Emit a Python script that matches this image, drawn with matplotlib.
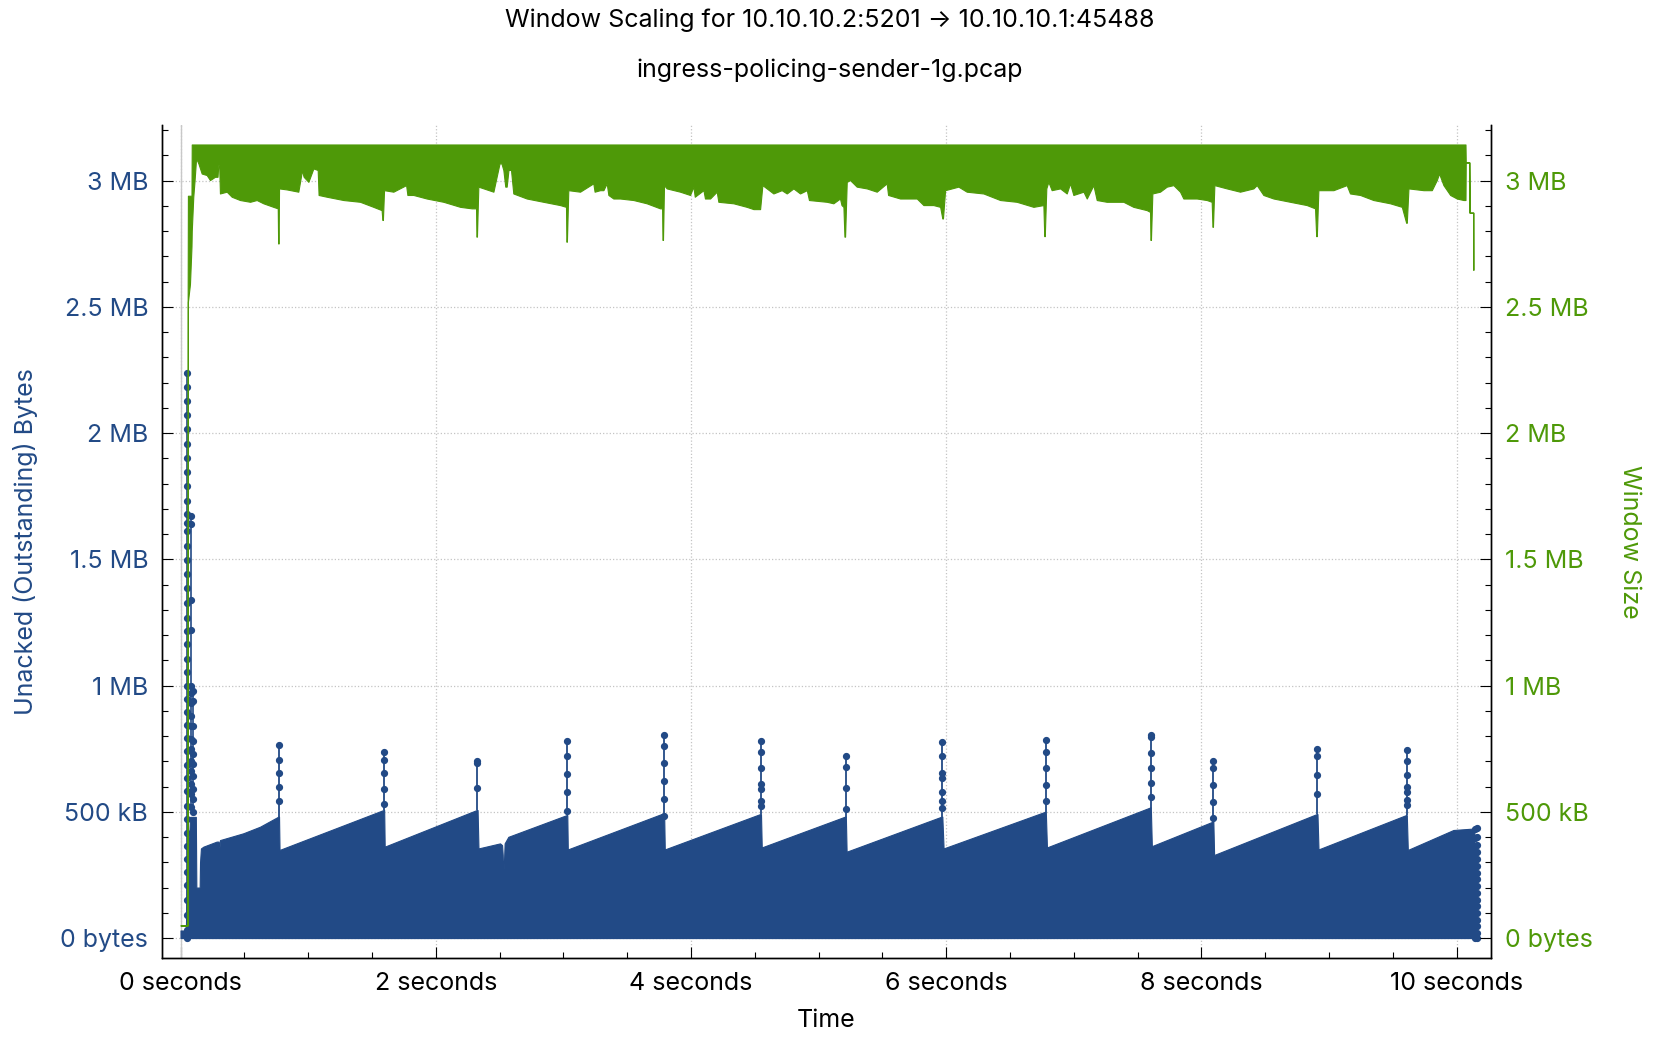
import numpy as np
import matplotlib.pyplot as plt
from matplotlib.ticker import MultipleLocator, FuncFormatter

plt.rcParams['font.family'] = ['Inter', 'DejaVu Sans']

BLUE = '#224a86'
GREEN = '#4e9908'

# --- unacked (outstanding) bytes: upper envelope of the dense sawtooth (seconds, MB)
unacked_t = [0.000, 0.042, 0.048, 0.075, 0.120, 0.124, 0.150, 0.153, 0.160, 0.179,
             0.283, 0.298, 0.302, 0.306, 0.309, 0.492, 0.623, 0.767, 0.772, 0.776,
             1.590, 1.596, 1.600,
             2.321, 2.328, 2.335, 2.504, 2.520, 2.525, 2.528, 2.533, 2.540, 2.569,
             3.026, 3.031, 3.035,
             3.784, 3.790, 3.795,
             4.542, 4.549, 4.555,
             5.208, 5.214, 5.220,
             5.965, 5.970, 5.980,
             6.775, 6.781, 6.790,
             7.598, 7.604, 7.612,
             8.089, 8.094, 8.100,
             8.904, 8.910, 8.918,
             9.604, 9.610, 9.618,
             9.975, 10.140, 10.142]
unacked_mb = [0.03, 0.03, 0.20, 0.48, 0.48, 0.20, 0.20, 0.30, 0.355, 0.362,
              0.382, 0.382, 0.362, 0.362, 0.388, 0.415, 0.441, 0.481, 0.481, 0.349,
              0.507, 0.507, 0.362,
              0.507, 0.507, 0.355, 0.375, 0.368, 0.329, 0.276, 0.276, 0.375, 0.401,
              0.487, 0.487, 0.351,
              0.494, 0.494, 0.351,
              0.491, 0.491, 0.359,
              0.481, 0.481, 0.342,
              0.481, 0.481, 0.355,
              0.500, 0.500, 0.359,
              0.517, 0.517, 0.364,
              0.461, 0.461, 0.329,
              0.491, 0.491, 0.351,
              0.487, 0.487, 0.349,
              0.428, 0.434, 0.0]

# spikes above the sawtooth (retransmission bursts)
spike_t = [0.770, 1.595, 2.326, 3.030, 3.790, 4.549, 5.214, 5.970, 6.780,
           7.603, 8.093, 8.910, 9.610]
spike_base = [0.481, 0.507, 0.507, 0.487, 0.494, 0.491, 0.481, 0.481, 0.500,
              0.517, 0.461, 0.491, 0.487]
spike_dots = [
    [0.764, 0.707, 0.652, 0.599, 0.543],
    [0.738, 0.707, 0.652, 0.589, 0.529],
    [0.702, 0.692, 0.593],
    [0.782, 0.722, 0.650, 0.577, 0.504],
    [0.804, 0.760, 0.692, 0.622, 0.552, 0.483],
    [0.782, 0.738, 0.672, 0.609, 0.589, 0.544, 0.525],
    [0.721, 0.679, 0.594, 0.512],
    [0.778, 0.722, 0.655, 0.632, 0.580, 0.544, 0.514],
    [0.784, 0.738, 0.672, 0.606, 0.543],
    [0.804, 0.797, 0.731, 0.672, 0.616, 0.560],
    [0.702, 0.675, 0.606, 0.540, 0.474],
    [0.748, 0.723, 0.646, 0.569],
    [0.745, 0.701, 0.646, 0.599, 0.580, 0.547, 0.527],
]

# slow-start burst at the beginning
burst_t = [0.050, 0.080, 0.100]
burst_dots = [
    [2.239, 2.182, 2.127, 2.070, 2.015, 1.958, 1.903, 1.846, 1.791, 1.731,
     1.679, 1.642, 1.612, 1.552, 1.497, 1.440, 1.388, 1.328, 1.269, 1.216,
     1.164, 1.104, 1.052, 1.000, 0.948, 0.896, 0.843, 0.791, 0.739, 0.687,
     0.634, 0.582, 0.522, 0.470, 0.418, 0.366, 0.313, 0.261, 0.209, 0.149,
     0.090, 0.030, 0.0],
    [1.67, 1.64, 1.34, 1.22, 1.00, 0.97, 0.93, 0.88, 0.84, 0.79, 0.75, 0.70,
     0.66, 0.61, 0.57, 0.52],
    [0.98, 0.94, 0.84, 0.78, 0.73, 0.69, 0.64, 0.59, 0.55, 0.50],
]

# trailing columns at the end of the capture
tail_t = [10.148, 10.160]
tail_dots = [
    [0.430, 0.395, 0.364, 0.335, 0.311, 0.282, 0.256, 0.230, 0.203, 0.177,
     0.150, 0.124, 0.098, 0.071, 0.045, 0.018, 0.0],
    [0.434, 0.400, 0.370, 0.340, 0.312, 0.285, 0.258, 0.232, 0.205, 0.180,
     0.152, 0.126, 0.100, 0.073, 0.046, 0.020, 0.0],
]

# --- receive window size: band between lower envelope and upper edge (seconds, MB)
win_t = [0.000, 0.054, 0.056, 0.058, 0.074, 0.086, 0.088, 0.100, 0.110, 0.122,
         0.140, 0.166, 0.205, 0.231, 0.270, 0.290, 0.296, 0.303, 0.309, 0.362,
         0.401, 0.466, 0.545, 0.597, 0.649, 0.727, 0.762, 0.765, 0.769, 0.772,
         0.832, 0.923, 0.945, 0.950, 0.965, 1.002, 1.041, 1.075, 1.082, 1.146,
         1.276, 1.407, 1.511, 1.576, 1.582, 1.586, 1.595, 1.668, 1.768, 1.778,
         1.825, 1.929, 2.060, 2.191, 2.282, 2.316, 2.319, 2.323, 2.334, 2.452,
         2.500, 2.515, 2.530, 2.545, 2.556, 2.570, 2.590, 2.608, 2.713, 2.843,
         2.974, 3.021, 3.024, 3.028, 3.039, 3.131, 3.235, 3.245, 3.288, 3.314,
         3.340, 3.353, 3.392, 3.444, 3.549, 3.653, 3.758, 3.774, 3.777, 3.781,
         3.789, 3.810, 3.915, 3.993, 4.019, 4.030, 4.098, 4.110, 4.150, 4.202,
         4.215, 4.333, 4.437, 4.490, 4.542, 4.560, 4.594, 4.646, 4.711, 4.751,
         4.803, 4.855, 4.908, 4.925, 5.065, 5.116, 5.168, 5.180, 5.195, 5.203,
         5.208, 5.221, 5.247, 5.299, 5.378, 5.456, 5.534, 5.545, 5.639, 5.770,
         5.822, 5.900, 5.953, 5.970, 5.975, 5.992, 6.096, 6.161, 6.292, 6.423,
         6.553, 6.684, 6.762, 6.769, 6.773, 6.785, 6.801, 6.827, 6.893, 6.945,
         6.971, 6.997, 7.076, 7.102, 7.154, 7.180, 7.258, 7.389, 7.467, 7.572,
         7.598, 7.601, 7.605, 7.616, 7.676, 7.729, 7.781, 7.833, 7.859, 7.964,
         8.042, 8.081, 8.087, 8.091, 8.102, 8.199, 8.303, 8.408, 8.434, 8.486,
         8.565, 8.695, 8.826, 8.891, 8.900, 8.905, 8.917, 9.035, 9.139, 9.165,
         9.244, 9.348, 9.479, 9.571, 9.605, 9.610, 9.623, 9.741, 9.806, 9.845,
         9.863, 9.897, 9.950, 10.002, 10.054, 10.070, 10.072, 10.100, 10.102,
         10.130, 10.131, 10.132]
win_low = [0.05, 0.05, 0.05, 2.52, 2.59, 2.74, 2.80, 2.936, 3.00, 3.088,
           3.068, 3.028, 3.022, 3.002, 3.015, 3.015, 3.061, 3.061, 2.949, 2.956,
           2.936, 2.923, 2.916, 2.923, 2.910, 2.896, 2.890, 2.751, 2.751, 2.969,
           2.965, 2.956, 3.020, 3.042, 3.015, 2.995, 3.048, 3.042, 2.943, 2.936,
           2.923, 2.916, 2.896, 2.883, 2.844, 2.844, 2.962, 2.956, 2.982, 2.943,
           2.943, 2.929, 2.916, 2.896, 2.890, 2.890, 2.778, 2.778, 2.976, 2.956,
           3.068, 3.068, 3.042, 2.976, 2.976, 3.042, 3.042, 2.949, 2.929, 2.916,
           2.903, 2.896, 2.758, 2.758, 2.962, 2.956, 2.989, 2.956, 2.962, 2.962,
           2.989, 2.943, 2.929, 2.929, 2.923, 2.910, 2.890, 2.890, 2.765, 2.765,
           2.982, 2.969, 2.956, 2.943, 2.976, 2.936, 2.962, 2.929, 2.929, 2.956,
           2.916, 2.910, 2.896, 2.887, 2.887, 2.982, 2.969, 2.949, 2.962, 2.949,
           2.969, 2.949, 2.962, 2.923, 2.916, 2.910, 2.929, 2.903, 2.896, 2.778,
           2.778, 2.995, 3.002, 2.976, 2.969, 2.956, 2.989, 2.943, 2.929, 2.929,
           2.903, 2.903, 2.896, 2.850, 2.850, 2.962, 2.976, 2.956, 2.949, 2.923,
           2.916, 2.896, 2.903, 2.780, 2.780, 2.969, 2.995, 2.962, 2.969, 2.949,
           2.989, 2.943, 2.956, 2.929, 2.982, 2.923, 2.916, 2.916, 2.896, 2.883,
           2.876, 2.765, 2.765, 2.949, 2.956, 2.976, 2.982, 2.956, 2.929, 2.929,
           2.923, 2.916, 2.817, 2.817, 2.982, 2.969, 2.956, 2.969, 2.982, 2.943,
           2.929, 2.916, 2.903, 2.890, 2.780, 2.780, 2.962, 2.962, 2.982, 2.949,
           2.943, 2.923, 2.910, 2.896, 2.833, 2.833, 2.969, 2.962, 2.962, 3.002,
           3.028, 2.982, 2.943, 2.929, 2.923, 2.923, 3.072, 3.072, 2.873,
           2.873, 2.646, 2.646]
win_high_start = [0.05, 0.05, 2.52, 2.94, 2.94, 2.94, 3.143, 3.143]
win_high_end = [3.072, 3.072, 2.873, 2.873, 2.873, 2.873]
win_high = win_high_start + [3.143] * (len(win_t) - len(win_high_start)
                                       - len(win_high_end)) + win_high_end

win_t = np.array(win_t)
win_low = np.array(win_low)
win_high = np.array(win_high)


def size_fmt(v, pos):
    if abs(v) < 1e-9:
        return '0 bytes'
    if v < 1:
        return f'{v * 1000:g} kB'
    return f'{v:g} MB'


def time_fmt(v, pos):
    return f'{v:g} seconds'


fig = plt.figure(figsize=(16.6, 10.42), dpi=100)
ax = fig.add_axes([0.0976, 0.0806, 0.8006, 0.7994])
ax2 = ax.twinx()

# blue series
ax.fill_between(unacked_t, 0, unacked_mb, color=BLUE, linewidth=0.8,
                edgecolor=BLUE, zorder=2)
ax.vlines(spike_t, spike_base, [max(d) for d in spike_dots], color=BLUE,
          linewidth=1.3, zorder=3)
for t, d in zip(spike_t, spike_dots):
    ax.plot([t] * len(d), d, 'o', color=BLUE, markersize=4.2, zorder=3)
for t, d in zip(burst_t, burst_dots):
    ax.plot([t] * len(d), d, '-o', color=BLUE, markersize=4.2, linewidth=1.2,
            zorder=3)
for t, d in zip(tail_t, tail_dots):
    ax.plot([t] * len(d), d, 'o', color=BLUE, markersize=4.2, zorder=3)

# green series
ax2.fill_between(win_t, win_low, win_high, color=GREEN,
                 linewidth=0.8, edgecolor=GREEN, zorder=2)

ylo, yhi = -0.079, 3.220
for a in (ax, ax2):
    a.set_ylim(ylo, yhi)
    a.set_xlim(-0.145, 10.27)
    a.yaxis.set_major_locator(MultipleLocator(0.5))
    a.yaxis.set_minor_locator(MultipleLocator(0.1))
    a.yaxis.set_major_formatter(FuncFormatter(size_fmt))
    a.spines['top'].set_visible(False)
    for s in ('left', 'right', 'bottom'):
        a.spines[s].set_linewidth(1.0)
    a.tick_params(which='major', direction='in', length=8, width=0.8,
                  labelsize=18, pad=10)
    a.tick_params(which='minor', direction='in', length=4, width=0.8)

ax.xaxis.set_major_locator(MultipleLocator(2))
ax.xaxis.set_minor_locator(MultipleLocator(0.5))
ax.xaxis.set_major_formatter(FuncFormatter(time_fmt))
ax.tick_params(axis='y', which='both', labelcolor=BLUE, left=True, right=False)
ax2.tick_params(axis='y', which='both', labelcolor=GREEN, right=True, left=False)

ax.grid(True, which='major', linestyle=':', color='#c4c4c4', linewidth=0.9)
ax.axvline(0, color='#c8c8c8', linewidth=1.0, zorder=1)
ax.set_axisbelow(True)

ax.set_xlabel('Time', fontsize=18, labelpad=10)
ax.set_ylabel('Unacked (Outstanding) Bytes', fontsize=18, color=BLUE)
ax.yaxis.set_label_coords(-0.093, 0.5)
ax2.set_ylabel('Window Size', fontsize=18, color=GREEN, rotation=-90)
ax2.yaxis.set_label_coords(1.113, 0.5)

fig.text(0.5, 1 - 20 / 1042, 'Window Scaling for 10.10.10.2:5201 \u2192 10.10.10.1:45488',
         ha='center', va='center', fontsize=18)
fig.text(0.5, 1 - 70 / 1042, 'ingress-policing-sender-1g.pcap',
         ha='center', va='center', fontsize=18)

fig.savefig('out.png', dpi=100)
